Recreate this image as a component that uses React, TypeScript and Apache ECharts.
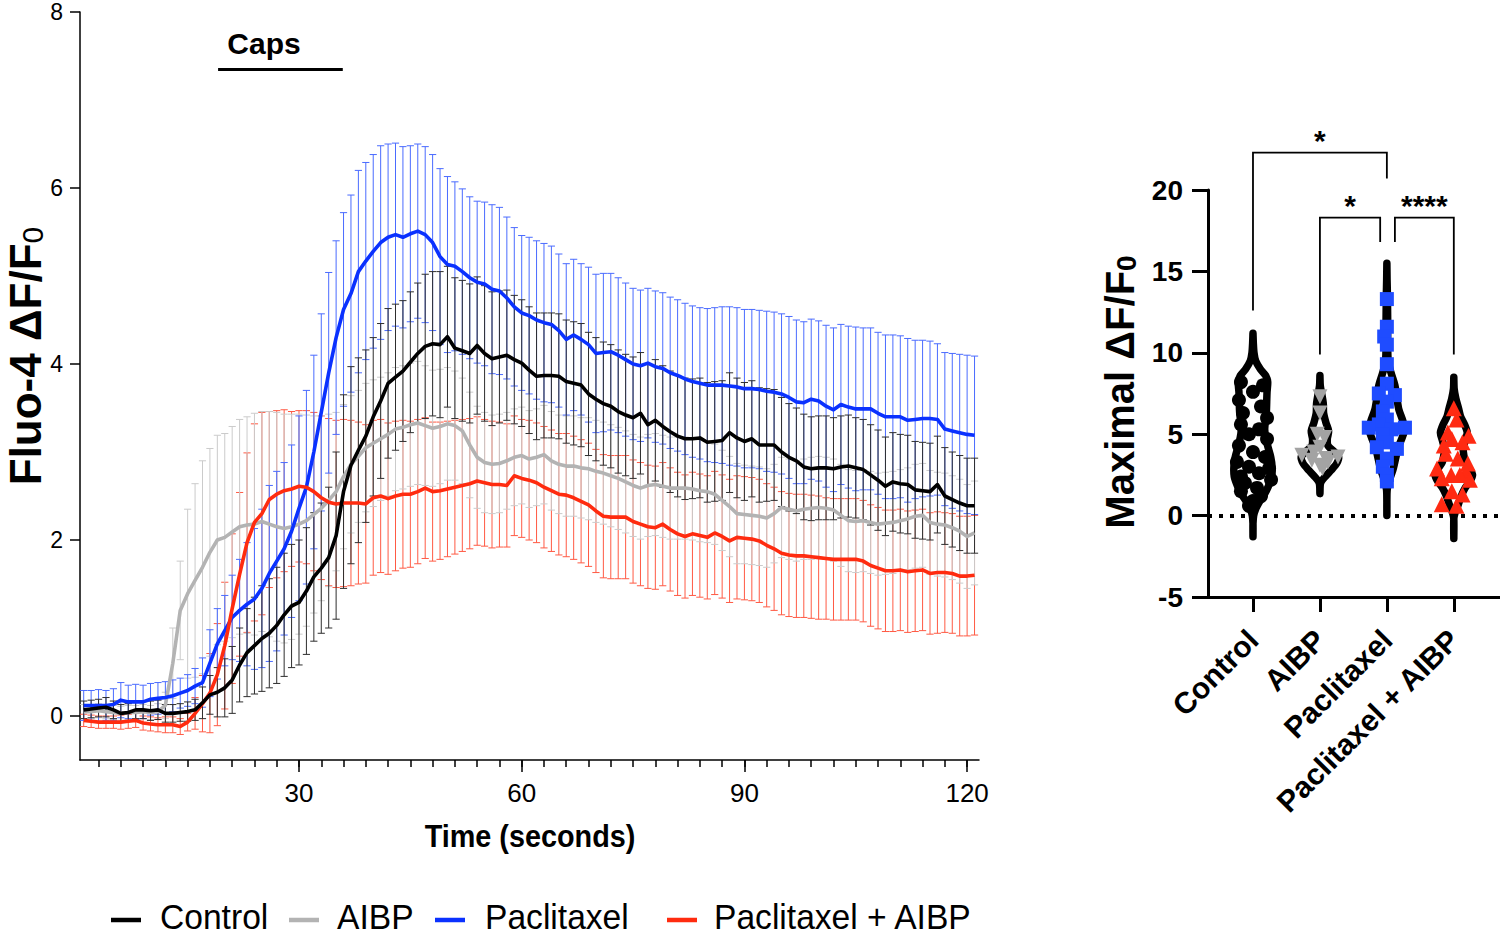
import React, { useEffect, useRef } from 'react';
import * as echarts from 'echarts';

const FONT = '"Liberation Sans", Arial, Helvetica, sans-serif';

// ---------- Left panel: time course (mean ± SD), sampled every second ----------
const timeSec = Array.from({ length: 121 }, (_, i) => i + 1);

const controlMean = [
  0.07, 0.08, 0.09, 0.10, 0.07, 0.03, 0.04, 0.07, 0.07, 0.06,
  0.07, 0.03, 0.03, 0.04, 0.05, 0.07, 0.15, 0.24, 0.27, 0.32,
  0.41, 0.58, 0.72, 0.80, 0.88, 0.94, 1.03, 1.15, 1.25, 1.29,
  1.42, 1.58, 1.68, 1.80, 2.05, 2.55, 2.85, 3.02, 3.18, 3.40,
  3.58, 3.78, 3.85, 3.92, 4.02, 4.12, 4.20, 4.23, 4.22, 4.31,
  4.18, 4.15, 4.12, 4.21, 4.12, 4.06, 4.08, 4.10, 4.05, 4.01,
  3.93, 3.86, 3.87, 3.87, 3.86, 3.80, 3.78, 3.76, 3.66, 3.60,
  3.55, 3.52, 3.46, 3.42, 3.39, 3.44, 3.31, 3.36, 3.29, 3.23,
  3.18, 3.15, 3.15, 3.16, 3.11, 3.12, 3.13, 3.22, 3.16, 3.12,
  3.15, 3.08, 3.08, 3.08, 3.00, 2.94, 2.90, 2.83, 2.81, 2.82,
  2.82, 2.81, 2.83, 2.84, 2.82, 2.80, 2.74, 2.68, 2.61, 2.66,
  2.64, 2.63, 2.57, 2.56, 2.55, 2.63, 2.50, 2.46, 2.42, 2.39,
  2.39,
];
const controlSD = [
  0.10, 0.10, 0.10, 0.11, 0.10, 0.10, 0.10, 0.10, 0.10, 0.11,
  0.11, 0.10, 0.10, 0.10, 0.11, 0.12, 0.18, 0.22, 0.28, 0.33,
  0.38, 0.42, 0.50, 0.55, 0.60, 0.62, 0.66, 0.70, 0.70, 0.71,
  0.72, 0.73, 0.74, 0.80, 0.95, 1.10, 1.12, 1.05, 0.98, 0.90,
  0.88, 0.85, 0.83, 0.80, 0.80, 0.80, 0.82, 0.82, 0.83, 0.80,
  0.80, 0.80, 0.79, 0.78, 0.77, 0.76, 0.75, 0.74, 0.73, 0.72,
  0.72, 0.72, 0.71, 0.71, 0.71, 0.70, 0.70, 0.70, 0.70, 0.70,
  0.70, 0.70, 0.70, 0.69, 0.69, 0.69, 0.69, 0.69, 0.69, 0.69,
  0.69, 0.69, 0.68, 0.68, 0.68, 0.68, 0.68, 0.68, 0.68, 0.67,
  0.66, 0.65, 0.64, 0.63, 0.62, 0.61, 0.60, 0.60, 0.59, 0.59,
  0.59, 0.58, 0.58, 0.58, 0.57, 0.57, 0.57, 0.57, 0.56, 0.56,
  0.56, 0.56, 0.55, 0.55, 0.55, 0.55, 0.55, 0.54, 0.54, 0.54,
  0.54,
];

const aibpMean = [
  0.05, 0.05, 0.06, 0.05, 0.04, 0.03, 0.04, 0.04, 0.05, 0.04,
  0.05, 0.12, 0.60, 1.20, 1.39, 1.54, 1.69, 1.86, 2.00, 2.03,
  2.09, 2.15, 2.17, 2.18, 2.21, 2.18, 2.15, 2.13, 2.15, 2.18,
  2.22, 2.29, 2.36, 2.45, 2.55, 2.72, 2.86, 2.95, 3.05, 3.10,
  3.15, 3.20, 3.26, 3.28, 3.31, 3.33, 3.30, 3.27, 3.29, 3.32,
  3.30, 3.24, 3.08, 2.94, 2.88, 2.86, 2.87, 2.90, 2.94, 2.96,
  2.92, 2.94, 2.97, 2.90, 2.86, 2.84, 2.84, 2.82, 2.81, 2.78,
  2.76, 2.73, 2.70, 2.66, 2.62, 2.59, 2.62, 2.63, 2.61, 2.59,
  2.59, 2.59, 2.58, 2.56, 2.55, 2.52, 2.45, 2.38, 2.30, 2.29,
  2.28, 2.27, 2.25, 2.30, 2.37, 2.35, 2.33, 2.35, 2.36, 2.37,
  2.36, 2.34, 2.28, 2.22, 2.21, 2.22, 2.20, 2.18, 2.19, 2.20,
  2.22, 2.24, 2.27, 2.28, 2.20, 2.18, 2.17, 2.14, 2.10, 2.04,
  2.08,
];
const aibpSD = [
  0.08, 0.08, 0.08, 0.08, 0.08, 0.08, 0.08, 0.08, 0.08, 0.08,
  0.09, 0.15, 0.40, 0.56, 0.96, 1.10, 1.21, 1.18, 1.19, 1.18,
  1.20, 1.22, 1.23, 1.26, 1.25, 1.28, 1.30, 1.30, 1.28, 1.25,
  1.20, 1.12, 1.05, 0.98, 0.90, 0.82, 0.78, 0.75, 0.73, 0.72,
  0.70, 0.70, 0.70, 0.70, 0.70, 0.70, 0.68, 0.66, 0.65, 0.64,
  0.62, 0.60, 0.60, 0.58, 0.57, 0.56, 0.56, 0.55, 0.55, 0.55,
  0.55, 0.55, 0.56, 0.56, 0.56, 0.57, 0.57, 0.57, 0.58, 0.58,
  0.58, 0.58, 0.58, 0.58, 0.58, 0.58, 0.58, 0.58, 0.58, 0.58,
  0.58, 0.58, 0.58, 0.58, 0.58, 0.57, 0.57, 0.57, 0.57, 0.56,
  0.56, 0.56, 0.56, 0.56, 0.57, 0.57, 0.57, 0.57, 0.58, 0.58,
  0.58, 0.58, 0.58, 0.58, 0.58, 0.58, 0.58, 0.58, 0.58, 0.58,
  0.58, 0.58, 0.59, 0.59, 0.59, 0.59, 0.59, 0.59, 0.59, 0.59,
  0.59,
];

const paclMean = [
  0.12, 0.12, 0.12, 0.12, 0.13, 0.18, 0.16, 0.16, 0.16, 0.19,
  0.20, 0.21, 0.23, 0.26, 0.29, 0.34, 0.38, 0.60, 0.82, 0.97,
  1.12, 1.20, 1.27, 1.33, 1.45, 1.62, 1.76, 1.90, 2.10, 2.36,
  2.60, 3.00, 3.45, 3.90, 4.30, 4.62, 4.80, 5.05, 5.17, 5.28,
  5.38, 5.44, 5.47, 5.44, 5.48, 5.51, 5.47, 5.38, 5.22, 5.13,
  5.11, 5.05, 4.98, 4.93, 4.91, 4.85, 4.83, 4.75, 4.65, 4.58,
  4.55, 4.50, 4.47, 4.45, 4.38, 4.28, 4.33, 4.28, 4.22, 4.12,
  4.13, 4.14, 4.10, 4.05, 4.00, 3.98, 4.01, 3.97, 3.95, 3.90,
  3.87, 3.83, 3.80, 3.78, 3.76, 3.76, 3.76, 3.75, 3.74, 3.72,
  3.72, 3.71, 3.69, 3.68, 3.66, 3.62, 3.57, 3.56, 3.60, 3.58,
  3.52, 3.48, 3.54, 3.51, 3.49, 3.49, 3.49, 3.44, 3.40, 3.40,
  3.40, 3.36, 3.37, 3.38, 3.38, 3.37, 3.26, 3.24, 3.22, 3.20,
  3.19,
];
const paclSD = [
  0.17, 0.17, 0.18, 0.17, 0.18, 0.20, 0.19, 0.20, 0.19, 0.18,
  0.18, 0.18, 0.18, 0.17, 0.18, 0.20, 0.28, 0.38, 0.40, 0.40,
  0.48, 0.58, 0.70, 0.80, 0.90, 1.00, 1.02, 0.98, 0.98, 1.05,
  1.10, 1.10, 1.12, 1.14, 1.10, 1.10, 1.12, 1.15, 1.12, 1.10,
  1.10, 1.06, 1.04, 1.03, 1.00, 0.99, 1.00, 1.00, 1.00, 1.00,
  0.96, 0.94, 0.92, 0.92, 0.93, 0.96, 0.95, 0.92, 0.90, 0.88,
  0.89, 0.90, 0.90, 0.89, 0.87, 0.86, 0.86, 0.86, 0.88, 0.90,
  0.90, 0.89, 0.88, 0.87, 0.86, 0.86, 0.85, 0.86, 0.86, 0.86,
  0.86, 0.86, 0.86, 0.86, 0.87, 0.88, 0.89, 0.90, 0.90, 0.90,
  0.90, 0.90, 0.91, 0.91, 0.91, 0.92, 0.93, 0.92, 0.91, 0.91,
  0.92, 0.93, 0.91, 0.92, 0.93, 0.92, 0.92, 0.92, 0.93, 0.93,
  0.92, 0.93, 0.90, 0.89, 0.88, 0.86, 0.87, 0.88, 0.89, 0.90,
  0.90,
];

const comboMean = [
  -0.05, -0.06, -0.07, -0.07, -0.07, -0.07, -0.06, -0.05, -0.08, -0.09,
  -0.10, -0.10, -0.10, -0.12, -0.07, 0.03, 0.14, 0.26, 0.47, 0.80,
  1.22, 1.61, 1.97, 2.20, 2.30, 2.46, 2.52, 2.56, 2.58, 2.61,
  2.60, 2.55, 2.48, 2.43, 2.41, 2.42, 2.42, 2.42, 2.41, 2.48,
  2.50, 2.47, 2.50, 2.52, 2.52, 2.55, 2.59, 2.55, 2.56, 2.58,
  2.60, 2.62, 2.64, 2.67, 2.65, 2.63, 2.63, 2.62, 2.73, 2.70,
  2.68, 2.65, 2.60, 2.56, 2.52, 2.51, 2.48, 2.44, 2.40, 2.33,
  2.27, 2.26, 2.26, 2.26, 2.21, 2.18, 2.15, 2.14, 2.18, 2.12,
  2.07, 2.04, 2.07, 2.05, 2.03, 2.08, 2.04, 1.99, 2.03, 2.02,
  2.01, 1.99, 1.94, 1.90, 1.85, 1.83, 1.82, 1.82, 1.81, 1.80,
  1.79, 1.78, 1.78, 1.78, 1.78, 1.76, 1.71, 1.68, 1.65, 1.65,
  1.66, 1.64, 1.65, 1.66, 1.62, 1.63, 1.63, 1.62, 1.59, 1.59,
  1.60,
];
const comboSD = [
  0.07, 0.07, 0.07, 0.07, 0.07, 0.08, 0.08, 0.08, 0.08, 0.08,
  0.08, 0.09, 0.09, 0.09, 0.10, 0.18, 0.32, 0.45, 0.58, 0.72,
  0.85, 0.93, 1.02, 1.12, 1.15, 1.00, 0.95, 0.92, 0.88, 0.86,
  0.87, 0.90, 0.93, 0.95, 0.95, 0.95, 0.94, 0.92, 0.90, 0.88,
  0.87, 0.86, 0.85, 0.84, 0.83, 0.82, 0.80, 0.79, 0.78, 0.77,
  0.76, 0.75, 0.74, 0.73, 0.72, 0.72, 0.71, 0.70, 0.68, 0.67,
  0.68, 0.68, 0.69, 0.69, 0.69, 0.70, 0.70, 0.70, 0.70, 0.70,
  0.70, 0.70, 0.70, 0.70, 0.70, 0.70, 0.70, 0.70, 0.70, 0.70,
  0.70, 0.70, 0.70, 0.70, 0.70, 0.70, 0.70, 0.70, 0.70, 0.70,
  0.70, 0.70, 0.70, 0.70, 0.70, 0.70, 0.70, 0.70, 0.70, 0.70,
  0.69, 0.69, 0.69, 0.69, 0.69, 0.69, 0.69, 0.69, 0.69, 0.69,
  0.69, 0.69, 0.69, 0.69, 0.69, 0.69, 0.68, 0.68, 0.68, 0.68,
  0.68,
];

const timeLabelTicks = [30, 60, 90, 120];
const timeMinorTicks = [
  3, 6, 9, 12, 15, 18, 21, 24, 27, 30, 33, 36, 39, 42, 45, 48, 51, 54, 57, 60,
  63, 66, 69, 72, 75, 78, 81, 84, 87, 90, 93, 96, 99, 102, 105, 108, 111, 114, 117, 120,
];
const fluoTicks = [0, 2, 4, 6, 8];
const capsStart = 19.1;
const capsEnd = 35.9;
const capsLevel = 7.35;

// ---------- Right panel: maximal response per cell ----------
const groups = ['Control', 'AIBP', 'Paclitaxel', 'Paclitaxel + AIBP'];

const controlMax = [8.2, 8.0, 7.6, 7.1, 6.7, 6.3, 6.0, 5.6, 5.3, 5.0, 4.7, 4.3, 3.9, 3.6, 3.3, 3.0, 2.9, 2.6, 2.4, 2.2, 2.0, 1.7, 1.5, 1.2, 0.9, 0.6];
const controlJitter = [-0.18, 0.15, 0, -0.21, 0.12, -0.15, 0.21, -0.18, 0.09, -0.06, 0.21, -0.21, 0, 0.18, -0.24, -0.06, 0.24, 0.09, -0.18, 0.27, -0.12, 0.06, -0.18, 0.12, 0, -0.06];
const aibpMax = [7.3, 6.3, 5.0, 4.8, 4.2, 3.9, 3.7, 3.6, 3.5, 3.4, 3.3, 3.1, 2.9];
const aibpJitter = [0, 0, -0.04, 0.07, 0, -0.09, -0.27, 0.27, 0.09, -0.12, 0.12, 0, 0.04];
const paclMax = [13.3, 11.6, 11.0, 10.5, 9.3, 8.1, 7.5, 7.4, 7.0, 6.4, 5.9, 5.6, 5.4, 5.4, 5.3, 5.0, 4.5, 4.2, 4.1, 3.5, 3.0, 2.5, 2.1];
const paclJitter = [0, 0, -0.04, 0, 0, 0, -0.12, 0.12, 0, -0.06, 0, -0.12, -0.27, 0.27, 0.07, -0.06, 0, -0.15, 0.15, 0, -0.06, 0, 0];
const comboMax = [6.6, 5.9, 5.1, 4.9, 4.7, 4.5, 4.3, 3.8, 3.5, 3.2, 2.9, 2.7, 2.5, 2.5, 2.3, 2.2, 1.5, 1.3, 0.7, 0.6];
const comboJitter = [0, 0.04, -0.09, 0.22, -0.03, 0.13, -0.15, -0.12, 0.06, 0.21, -0.25, 0.18, -0.04, 0.09, -0.18, 0.24, -0.03, 0.13, -0.18, 0.04];

// violin outlines: [value, half-width in category units]
const controlViolin = [[11.2, 0], [10.6, 0.005], [10.0, 0.015], [9.5, 0.04], [9.0, 0.11], [8.6, 0.19], [8.2, 0.22], [7.6, 0.21], [7.0, 0.205], [6.4, 0.2], [5.8, 0.185], [5.3, 0.175], [4.8, 0.19], [4.2, 0.225], [3.6, 0.265], [3.0, 0.285], [2.4, 0.28], [1.8, 0.23], [1.3, 0.17], [0.8, 0.09], [0.4, 0.04], [0.0, 0.01], [-0.5, 0], [-1.3, 0]];
const aibpViolin = [[8.6, 0], [8.0, 0.005], [7.4, 0.03], [6.9, 0.05], [6.3, 0.055], [5.7, 0.09], [5.2, 0.13], [4.7, 0.11], [4.3, 0.12], [3.9, 0.22], [3.6, 0.28], [3.2, 0.25], [2.8, 0.17], [2.4, 0.08], [2.0, 0.01], [1.35, 0]];
const paclViolin = [[15.5, 0], [14.5, 0.003], [13.5, 0.008], [12.0, 0.012], [10.5, 0.012], [9.5, 0.02], [8.8, 0.06], [8.0, 0.12], [7.2, 0.15], [6.5, 0.18], [5.8, 0.24], [5.2, 0.26], [4.7, 0.22], [4.2, 0.17], [3.5, 0.13], [2.8, 0.09], [2.2, 0.04], [1.6, 0.005], [0.8, 0], [0, 0]];
const comboViolin = [[8.5, 0], [7.8, 0.005], [7.2, 0.03], [6.6, 0.07], [6.1, 0.1], [5.6, 0.16], [5.1, 0.2], [4.6, 0.17], [4.1, 0.14], [3.7, 0.15], [3.3, 0.17], [2.9, 0.23], [2.5, 0.28], [2.1, 0.24], [1.7, 0.17], [1.2, 0.11], [0.6, 0.06], [0.2, 0.02], [-0.2, 0], [-1.4, 0]];

const maxTicks = [-5, 0, 5, 10, 15, 20];

// significance brackets
const bracketFrom = [1, 2, 3.12];
const bracketTo = [3, 2.9, 4];
const bracketTop = [22.3, 18.3, 18.3];
const bracketLeftEnd = [12.6, 9.9, 16.8];
const bracketRightEnd = [20.7, 16.8, 9.9];
const bracketLabels = ['*', '*', '****'];

// ---------- styling ----------
const lineColors = ['#000000', '#b3b3b3', '#0a31ff', '#ff2b0f'];
const barColors = ['#2e2e2e', '#cbcbcb', '#4a6bff', '#ff5a44'];
const means = [controlMean, aibpMean, paclMean, comboMean];
const sds = [controlSD, aibpSD, paclSD, comboSD];

function errorBarSeries(k: number) {
  const color = barColors[k];
  return {
    type: 'custom',
    name: groups[k] + ' SD',
    xAxisIndex: 0,
    yAxisIndex: 0,
    silent: true,
    clip: false,
    z: 2,
    encode: { x: 0, y: [1, 2] },
    data: timeSec.map((t, i) => [t, means[k][i] - sds[k][i], means[k][i] + sds[k][i]]),
    renderItem: (params: any, api: any) => {
      const t = api.value(0);
      const lo = api.coord([t, api.value(1)]);
      const hi = api.coord([t, api.value(2)]);
      const hw = 3.6;
      const st = { stroke: color, lineWidth: 1 };
      return {
        type: 'group',
        children: [
          { type: 'line', shape: { x1: hi[0], y1: hi[1], x2: lo[0], y2: lo[1] }, style: st },
          { type: 'line', shape: { x1: hi[0] - hw, y1: hi[1], x2: hi[0] + hw, y2: hi[1] }, style: st },
          { type: 'line', shape: { x1: lo[0] - hw, y1: lo[1], x2: lo[0] + hw, y2: lo[1] }, style: st },
        ],
      };
    },
  };
}

function meanLineSeries(k: number, extra: any = {}) {
  return {
    type: 'line',
    name: groups[k],
    xAxisIndex: 0,
    yAxisIndex: 0,
    showSymbol: false,
    symbol: 'none',
    z: 3,
    lineStyle: { color: lineColors[k], width: 3.6, join: 'round' },
    data: timeSec.map((t, i) => [t, means[k][i]]),
    ...extra,
  };
}

const violins = [controlViolin, aibpViolin, paclViolin, comboViolin];
const maxValues = [controlMax, aibpMax, paclMax, comboMax];
const jitters = [controlJitter, aibpJitter, paclJitter, comboJitter];
const pointSymbols = ['circle', 'triangle', 'rect', 'triangle'];
const pointRotate = [0, 180, 0, 0];
const pointSizes = [14, 15, 14, 16];
const pointColors = ['#000000', '#a3a3a3', '#1f4cff', '#ff2a12'];

function buildOption() {
  const series: any[] = [];
  // error bars (drawn under the mean lines)
  [3, 1, 2, 0].forEach((k) => series.push(errorBarSeries(k)));
  // mean lines
  series.push(meanLineSeries(1));
  series.push(meanLineSeries(2));
  series.push(meanLineSeries(3));
  series.push(
    meanLineSeries(0, {
      markLine: {
        silent: true,
        symbol: 'none',
        label: { show: false },
        lineStyle: { color: '#000', width: 3, type: 'solid' },
        data: [[{ coord: [capsStart, capsLevel] }, { coord: [capsEnd, capsLevel] }]],
      },
    })
  );

  // right panel: dotted zero line holder
  series.push({
    type: 'line',
    name: 'zero',
    xAxisIndex: 2,
    yAxisIndex: 1,
    data: [],
    z: 1,
    markLine: {
      silent: true,
      symbol: 'none',
      label: { show: false },
      lineStyle: { color: '#000', width: 4, type: [4, 7] },
      data: [{ yAxis: 0 }],
    },
  });

  // violins
  series.push({
    type: 'custom',
    name: 'violins',
    xAxisIndex: 2,
    yAxisIndex: 1,
    clip: false,
    silent: true,
    z: 2,
    data: groups.map((g, i) => [i + 1, 0]),
    renderItem: (params: any, api: any) => {
      const idx = params.dataIndex;
      const cx = api.value(0);
      const prof = violins[idx];
      const right = prof.map(([v, w]) => api.coord([cx + w, v]));
      const left = prof
        .slice()
        .reverse()
        .map(([v, w]) => api.coord([cx - w, v]));
      return {
        type: 'polygon',
        shape: { points: right.concat(left), smooth: 0.25 },
        style: { fill: '#ffffff', stroke: '#000000', lineWidth: 7.5, lineJoin: 'round' },
      };
    },
  });

  // points
  groups.forEach((g, k) => {
    series.push({
      type: 'scatter',
      name: g + ' cells',
      xAxisIndex: 2,
      yAxisIndex: 1,
      z: 3,
      symbol: pointSymbols[k],
      symbolRotate: pointRotate[k],
      symbolSize: pointSizes[k],
      itemStyle: { color: pointColors[k], opacity: 1 },
      data: maxValues[k].map((v, i) => [k + 1 + jitters[k][i], v]),
    });
  });

  // brackets
  series.push({
    type: 'custom',
    name: 'significance',
    xAxisIndex: 2,
    yAxisIndex: 1,
    clip: false,
    silent: true,
    z: 4,
    data: bracketFrom.map((f, i) => [f, bracketTop[i]]),
    renderItem: (params: any, api: any) => {
      const i = params.dataIndex;
      const a = api.coord([bracketFrom[i], bracketLeftEnd[i]]);
      const b = api.coord([bracketFrom[i], bracketTop[i]]);
      const c = api.coord([bracketTo[i], bracketTop[i]]);
      const d = api.coord([bracketTo[i], bracketRightEnd[i]]);
      return {
        type: 'group',
        children: [
          {
            type: 'polyline',
            shape: { points: [a, b, c, d] },
            style: { stroke: '#000', lineWidth: 1.8, fill: null },
          },
          {
            type: 'text',
            x: (b[0] + c[0]) / 2,
            y: b[1] + 3,
            style: {
              text: bracketLabels[i],
              font: `bold 30px ${FONT}`,
              fill: '#000',
              align: 'center',
              verticalAlign: 'bottom',
              textAlign: 'center',
              textVerticalAlign: 'bottom',
            },
          },
        ],
      };
    },
  });

  // legend (drawn as graphic, mirrors series colors/names)
  const legendLineX = [111, 289, 435, 667];
  const legendTextX = [160, 337, 485, 714];
  const legendY = 917;
  const legendGraphics: any[] = [];
  groups.forEach((g, k) => {
    legendGraphics.push({
      type: 'line',
      shape: { x1: legendLineX[k], y1: legendY + 3, x2: legendLineX[k] + 30, y2: legendY + 3 },
      style: { stroke: lineColors[k], lineWidth: 4.5 },
    });
    legendGraphics.push({
      type: 'text',
      x: legendTextX[k],
      y: legendY,
      scaleX: 0.96,
      style: {
        text: g,
        font: `35px ${FONT}`,
        fill: '#000',
        align: 'left',
        verticalAlign: 'middle',
        textAlign: 'left',
        textVerticalAlign: 'middle',
      },
    });
  });

  const graphic: any[] = [
    ...legendGraphics,
    {
      type: 'text',
      x: 264,
      y: 43,
      style: {
        text: 'Caps',
        font: `bold 30px ${FONT}`,
        fill: '#000',
        align: 'center',
        verticalAlign: 'middle',
        textAlign: 'center',
        textVerticalAlign: 'middle',
      },
    },
    {
      type: 'text',
      x: 530,
      y: 835,
      scaleX: 0.9,
      style: {
        text: 'Time (seconds)',
        font: `bold 32px ${FONT}`,
        fill: '#000',
        align: 'center',
        verticalAlign: 'middle',
        textAlign: 'center',
        textVerticalAlign: 'middle',
      },
    },
    {
      type: 'text',
      x: 25,
      y: 356,
      rotation: Math.PI / 2,
      style: {
        text: '{m|Fluo-4 ΔF/F}{s|0}',
        fill: '#000',
        align: 'center',
        verticalAlign: 'middle',
        textAlign: 'center',
        textVerticalAlign: 'middle',
        rich: {
          m: { fontFamily: FONT, fontWeight: 'bold', fontSize: 44, lineHeight: 44, verticalAlign: 'top', fill: '#000', color: '#000' },
          s: { fontFamily: FONT, fontWeight: 'normal', fontSize: 30, lineHeight: 30, padding: [16, 0, 0, 0], verticalAlign: 'bottom', fill: '#000', color: '#000' },
        },
      },
    },
    {
      type: 'text',
      x: 1120,
      y: 392,
      rotation: Math.PI / 2,
      style: {
        text: '{m|Maximal ΔF/F}{s|0}',
        fill: '#000',
        align: 'center',
        verticalAlign: 'middle',
        textAlign: 'center',
        textVerticalAlign: 'middle',
        rich: {
          m: { fontFamily: FONT, fontWeight: 'bold', fontSize: 40, lineHeight: 40, verticalAlign: 'top', fill: '#000', color: '#000' },
          s: { fontFamily: FONT, fontWeight: 'bold', fontSize: 28, lineHeight: 28, padding: [20, 0, 0, 0], verticalAlign: 'bottom', fill: '#000', color: '#000' },
        },
      },
    },
  ];

  return {
    animation: false,
    backgroundColor: '#ffffff',
    grid: [
      { left: 80, top: 12, width: 899, height: 748, containLabel: false, outerBoundsMode: 'none' },
      { left: 1208, top: 190, width: 292, height: 407, containLabel: false, outerBoundsMode: 'none' },
    ],
    xAxis: [
      {
        gridIndex: 0,
        type: 'value',
        min: 0.5,
        max: 121.6,
        axisLine: { show: true, onZero: false, lineStyle: { color: '#000', width: 1.5 } },
        axisTick: { show: true, customValues: timeLabelTicks, length: 12, lineStyle: { color: '#000', width: 1.5 } },
        axisLabel: { show: true, customValues: timeLabelTicks, fontSize: 26, fontFamily: FONT, color: '#000', margin: 20 },
        splitLine: { show: false },
      },
      {
        gridIndex: 0,
        type: 'value',
        min: 0.5,
        max: 121.6,
        position: 'bottom',
        axisLine: { show: false, onZero: false },
        axisTick: { show: true, customValues: timeMinorTicks, length: 7, lineStyle: { color: '#000', width: 1.5 } },
        axisLabel: { show: false },
        splitLine: { show: false },
      },
      {
        gridIndex: 1,
        type: 'value',
        min: 0.328,
        max: 4.69,
        axisLine: { show: true, onZero: false, lineStyle: { color: '#000', width: 3 } },
        axisTick: { show: true, customValues: [1, 2, 3, 4], length: 15, lineStyle: { color: '#000', width: 3 } },
        axisLabel: {
          show: true,
          customValues: [1, 2, 3, 4],
          formatter: (v: number) => groups[Math.round(v) - 1] || '',
          rotate: 45,
          fontSize: 30,
          fontWeight: 'bold',
          fontFamily: FONT,
          color: '#000',
          margin: 38,
        },
        splitLine: { show: false },
      },
    ],
    yAxis: [
      {
        gridIndex: 0,
        type: 'value',
        min: -0.5,
        max: 8,
        axisLine: { show: true, onZero: false, lineStyle: { color: '#000', width: 1.5 } },
        axisTick: { show: true, customValues: fluoTicks, length: 10, lineStyle: { color: '#000', width: 1.5 } },
        axisLabel: { show: true, customValues: fluoTicks, fontSize: 23, fontFamily: FONT, color: '#000', margin: 17 },
        splitLine: { show: false },
      },
      {
        gridIndex: 1,
        type: 'value',
        min: -5,
        max: 20,
        interval: 5,
        axisLine: { show: true, onZero: false, lineStyle: { color: '#000', width: 3 } },
        axisTick: { show: true, customValues: maxTicks, length: 16, lineStyle: { color: '#000', width: 3 } },
        axisLabel: { show: true, customValues: maxTicks, fontSize: 28, fontWeight: 'bold', fontFamily: FONT, color: '#000', margin: 25 },
        splitLine: { show: false },
      },
    ],
    graphic,
    series,
  };
}

export default function App() {
  const ref = useRef<HTMLDivElement>(null);
  useEffect(() => {
    if (!ref.current) return;
    const chart = echarts.init(ref.current, null, { renderer: 'svg' });
    chart.setOption(buildOption() as any);
    return () => {
      chart.dispose();
    };
  }, []);
  return (
    <div
      ref={ref}
      style={{ position: 'fixed', left: 0, top: 0, width: 1500, height: 937, background: '#ffffff' }}
    />
  );
}
